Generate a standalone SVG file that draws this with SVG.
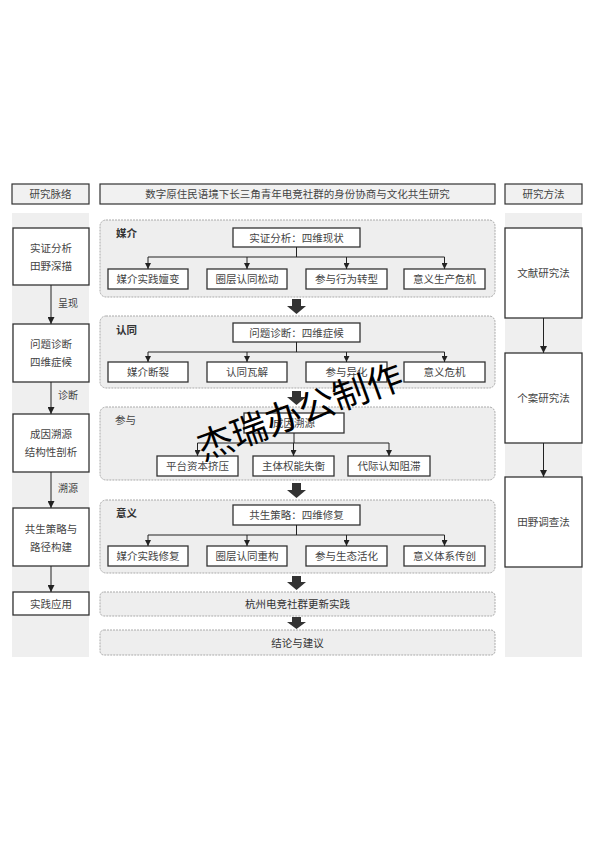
<svg xmlns="http://www.w3.org/2000/svg" width="594" height="841" viewBox="0 0 594 841">
<style>
text{font-family:"Liberation Sans","Noto Sans CJK SC",sans-serif;fill:#444;font-size:10.5px}
.hdr{fill:#f1f1f1;stroke:#333;stroke-width:1.2}
.col{fill:#efefef}
.box{fill:#fff;stroke:#333;stroke-width:1.3}
.sec{fill:#eeeeee;stroke:#aaa;stroke-width:1;stroke-dasharray:2 1}
.c{text-anchor:middle;dominant-baseline:central}
.ttl{font-weight:bold;fill:#333}
.ln{fill:none;stroke:#222;stroke-width:1}
.big{fill:#333}
.lbl{font-size:10px}
.wm{font-size:36px;fill:#000;text-anchor:middle;dominant-baseline:central}
</style>
<defs>
<marker id="ah" viewBox="0 0 10 10" refX="10" refY="5" markerWidth="6" markerHeight="6" markerUnits="userSpaceOnUse" orient="auto">
<path d="M0,0 L10,5 L0,10 z" fill="#222"/>
</marker>
<marker id="ah2" viewBox="0 0 10 10" refX="10" refY="5" markerWidth="7" markerHeight="7" markerUnits="userSpaceOnUse" orient="auto">
<path d="M0,0 L10,5 L0,10 z" fill="#222"/>
</marker>
</defs>
<rect width="594" height="841" fill="#fff"/>

<!-- headers -->
<g id="hdr-left"><rect class="hdr" x="12" y="184" width="77" height="20"/><text class="c" x="50.5" y="194">研究脉络</text></g>
<g id="hdr-mid"><rect class="hdr" x="100" y="184" width="395" height="20"/><text class="c" x="297.5" y="194">数字原住民语境下长三角青年电竞社群的身份协商与文化共生研究</text></g>
<g id="hdr-right"><rect class="hdr" x="505" y="184" width="77" height="20"/><text class="c" x="543.5" y="194">研究方法</text></g>

<!-- column backgrounds -->
<rect class="col" x="12" y="213" width="77" height="444"/>
<rect class="col" x="505" y="213" width="77" height="444"/>

<!-- left column nodes -->
<g id="l1"><rect class="box" x="13" y="228" width="76" height="57"/><text class="c" x="51" y="248">实证分析</text><text class="c" x="51" y="266">田野深描</text></g>
<g id="l2"><rect class="box" x="13" y="324" width="76" height="58"/><text class="c" x="51" y="344">问题诊断</text><text class="c" x="51" y="362">四维症候</text></g>
<g id="l3"><rect class="box" x="13" y="414" width="76" height="58"/><text class="c" x="51" y="434">成因溯源</text><text class="c" x="51" y="452">结构性剖析</text></g>
<g id="l4"><rect class="box" x="13" y="508" width="76" height="58"/><text class="c" x="51" y="529">共生策略与</text><text class="c" x="51" y="547">路径构建</text></g>
<g id="l5"><rect class="box" x="13" y="592" width="76" height="23"/><text class="c" x="51" y="603.5">实践应用</text></g>

<!-- right column nodes -->
<g id="r1"><rect class="box" x="505" y="228" width="77" height="90"/><text class="c" x="543.5" y="273">文献研究法</text></g>
<g id="r2"><rect class="box" x="505" y="353" width="77" height="90"/><text class="c" x="543.5" y="398">个案研究法</text></g>
<g id="r3"><rect class="box" x="505" y="477" width="77" height="90"/><text class="c" x="543.5" y="522">田野调查法</text></g>

<!-- sections -->
<g id="sec1">
<rect class="sec" x="100" y="220" width="395" height="77" rx="6"/>
<text class="ttl" x="116" y="237">媒介</text>
<g id="s1top"><rect class="box" x="233" y="228" width="127" height="19"/><text class="c" x="296.5" y="237.5">实证分析：四维现状</text></g>
<g id="s1a"><rect class="box" x="108" y="269" width="80" height="20"/><text class="c" x="148" y="279">媒介实践嬗变</text></g>
<g id="s1b"><rect class="box" x="207" y="269" width="80" height="20"/><text class="c" x="247" y="279">圈层认同松动</text></g>
<g id="s1c"><rect class="box" x="306" y="269" width="81" height="20"/><text class="c" x="346.5" y="279">参与行为转型</text></g>
<g id="s1d"><rect class="box" x="404" y="269" width="81" height="20"/><text class="c" x="444.5" y="279">意义生产危机</text></g>
</g>

<g id="sec2">
<rect class="sec" x="100" y="316" width="395" height="72" rx="6"/>
<text class="ttl" x="116" y="334">认同</text>
<g id="s2top"><rect class="box" x="233" y="323" width="127" height="19"/><text class="c" x="296.5" y="332.5">问题诊断：四维症候</text></g>
<g id="s2a"><rect class="box" x="108" y="362" width="80" height="20"/><text class="c" x="148" y="372">媒介断裂</text></g>
<g id="s2b"><rect class="box" x="207" y="362" width="80" height="20"/><text class="c" x="247" y="372">认同瓦解</text></g>
<g id="s2c"><rect class="box" x="306" y="362" width="81" height="20"/><text class="c" x="346.5" y="372">参与异化</text></g>
<g id="s2d"><rect class="box" x="404" y="362" width="81" height="20"/><text class="c" x="444.5" y="372">意义危机</text></g>
</g>

<g id="sec3">
<rect class="sec" x="100" y="407" width="395" height="73" rx="6"/>
<text x="115" y="424" style="fill:#444">参与</text>
<g id="s3top"><rect class="box" x="244" y="413" width="100" height="20"/><text class="c" x="294" y="423">成因溯源</text></g>
<g id="s3a"><rect class="box" x="157" y="456" width="81" height="20"/><text class="c" x="197.5" y="466">平台资本挤压</text></g>
<g id="s3b"><rect class="box" x="253" y="456" width="81" height="20"/><text class="c" x="293.5" y="466">主体权能失衡</text></g>
<g id="s3c"><rect class="box" x="348" y="456" width="82" height="20"/><text class="c" x="389" y="466">代际认知阻滞</text></g>
</g>

<g id="sec4">
<rect class="sec" x="100" y="500" width="395" height="73" rx="6"/>
<text class="ttl" x="116" y="517">意义</text>
<g id="s4top"><rect class="box" x="233" y="505" width="127" height="20"/><text class="c" x="296.5" y="515">共生策略：四维修复</text></g>
<g id="s4a"><rect class="box" x="108" y="546" width="80" height="20"/><text class="c" x="148" y="556">媒介实践修复</text></g>
<g id="s4b"><rect class="box" x="207" y="546" width="80" height="20"/><text class="c" x="247" y="556">圈层认同重构</text></g>
<g id="s4c"><rect class="box" x="306" y="546" width="81" height="20"/><text class="c" x="346.5" y="556">参与生态活化</text></g>
<g id="s4d"><rect class="box" x="404" y="546" width="81" height="20"/><text class="c" x="444.5" y="556">意义体系传创</text></g>
</g>

<g id="practice"><rect class="sec" x="100" y="592" width="395" height="24" rx="4"/><text class="c" x="297.5" y="604" style="fill:#333">杭州电竞社群更新实践</text></g>
<g id="conclusion"><rect class="sec" x="100" y="630" width="395" height="25" rx="4"/><text class="c" x="297.5" y="642.5" style="fill:#333">结论与建议</text></g>

<!-- connectors -->
<g id="connectors">
<line class="ln" x1="51" y1="285" x2="51" y2="324" marker-end="url(#ah2)"/>
<line class="ln" x1="51" y1="382" x2="51" y2="414" marker-end="url(#ah2)"/>
<line class="ln" x1="51" y1="472" x2="51" y2="508" marker-end="url(#ah2)"/>
<line class="ln" x1="51" y1="566" x2="51" y2="592" marker-end="url(#ah2)"/>
<line class="ln" x1="543.5" y1="318" x2="543.5" y2="353" marker-end="url(#ah2)"/>
<line class="ln" x1="543.5" y1="443" x2="543.5" y2="477" marker-end="url(#ah2)"/>

<path class="ln" d="M296.5,247 V257 M148,257 H444.5"/>
<line class="ln" x1="148" y1="257" x2="148" y2="269" marker-end="url(#ah)"/>
<line class="ln" x1="247" y1="257" x2="247" y2="269" marker-end="url(#ah)"/>
<line class="ln" x1="346.5" y1="257" x2="346.5" y2="269" marker-end="url(#ah)"/>
<line class="ln" x1="444.5" y1="257" x2="444.5" y2="269" marker-end="url(#ah)"/>

<path class="ln" d="M296.5,342 V352 M148,352 H444.5"/>
<line class="ln" x1="148" y1="352" x2="148" y2="362" marker-end="url(#ah)"/>
<line class="ln" x1="247" y1="352" x2="247" y2="362" marker-end="url(#ah)"/>
<line class="ln" x1="346.5" y1="352" x2="346.5" y2="362" marker-end="url(#ah)"/>
<line class="ln" x1="444.5" y1="352" x2="444.5" y2="362" marker-end="url(#ah)"/>

<path class="ln" d="M294,433 V443 M197.5,443 H389"/>
<line class="ln" x1="197.5" y1="443" x2="197.5" y2="456" marker-end="url(#ah)"/>
<line class="ln" x1="293.5" y1="443" x2="293.5" y2="456" marker-end="url(#ah)"/>
<line class="ln" x1="389" y1="443" x2="389" y2="456" marker-end="url(#ah)"/>

<path class="ln" d="M296.5,525 V535 M148,535 H444.5"/>
<line class="ln" x1="148" y1="535" x2="148" y2="546" marker-end="url(#ah)"/>
<line class="ln" x1="247" y1="535" x2="247" y2="546" marker-end="url(#ah)"/>
<line class="ln" x1="346.5" y1="535" x2="346.5" y2="546" marker-end="url(#ah)"/>
<line class="ln" x1="444.5" y1="535" x2="444.5" y2="546" marker-end="url(#ah)"/>

<path class="big" d="M292,299 h9 v7 h5 l-9.5,8 l-9.5,-8 h5 z"/>
<path class="big" d="M292,391 h9 v6 h5 l-9.5,8 l-9.5,-8 h5 z"/>
<path class="big" d="M292,483 h9 v7 h5 l-9.5,8 l-9.5,-8 h5 z"/>
<path class="big" d="M292,576 h9 v6 h5 l-9.5,8 l-9.5,-8 h5 z"/>
<path class="big" d="M292,617 h9 v5 h5 l-9.5,7 l-9.5,-7 h5 z"/>
</g>

<!-- edge labels -->
<text class="lbl" x="58" y="307">呈现</text>
<text class="lbl" x="58" y="399">诊断</text>
<text class="lbl" x="58" y="492">溯源</text>

<!-- watermark -->
<g id="watermark"><text class="wm" x="300" y="412" transform="rotate(-20 300 412)">杰瑞办公制作</text></g>
</svg>
